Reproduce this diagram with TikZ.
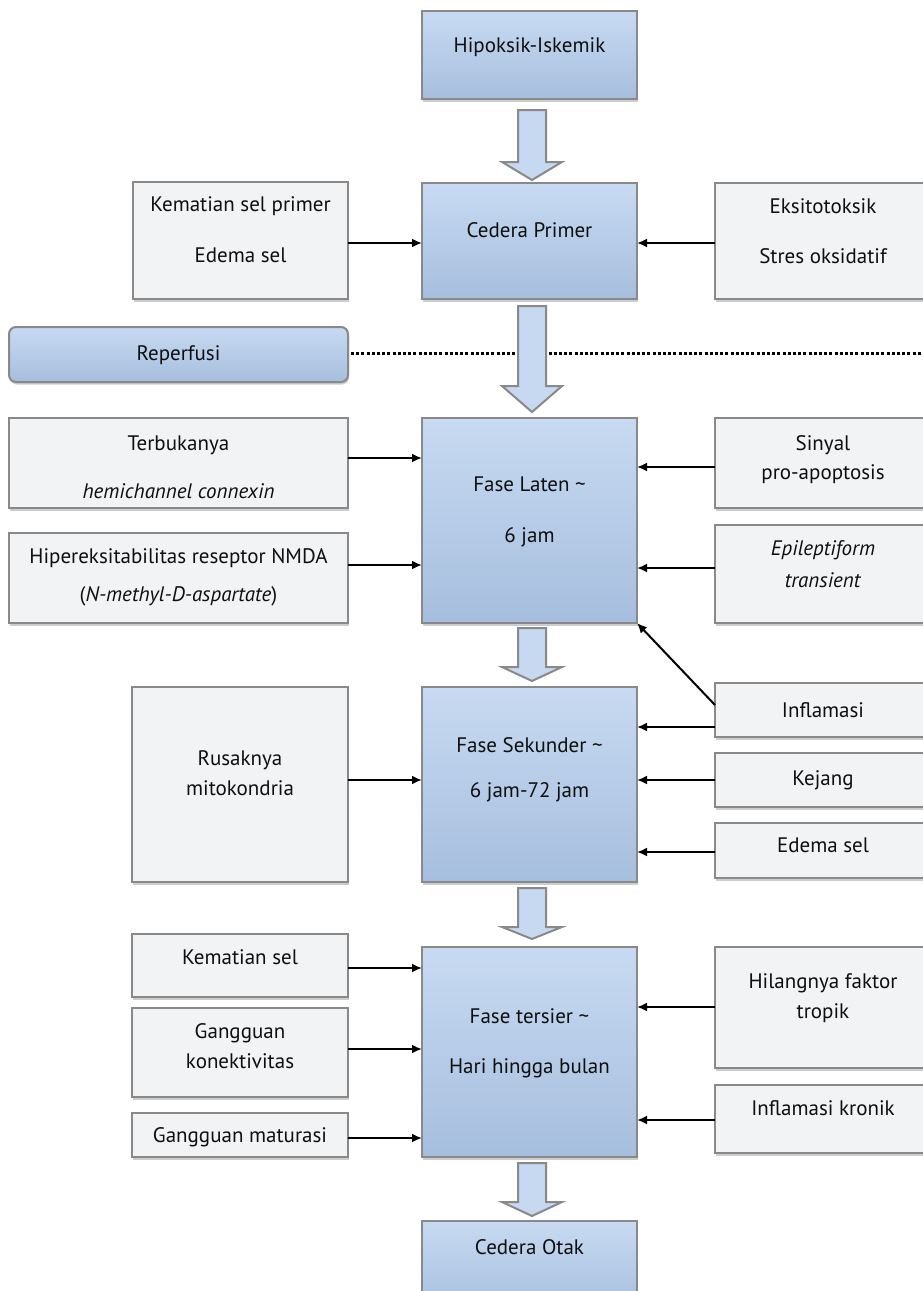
\documentclass[tikz,border=0pt]{standalone}
\usepackage{fontspec}
\setmainfont{PT Sans}
\usetikzlibrary{calc,shadows,arrows.meta}

\newcommand{\bigarrow}[5]{%
\path[bigarr] let \p1=(#1.south), \p2=(#2.north) in
  (\x1-11.5pt,\y1-#3pt) -- (\x1+16.5pt,\y1-#3pt) -- (\x1+16.5pt,\y2+#4pt+#5pt) --
  (\x1+32.5pt,\y2+#4pt+#5pt) -- (\x1+2.5pt,\y2+#4pt) -- (\x1-27.5pt,\y2+#4pt+#5pt) --
  (\x1-11.5pt,\y2+#4pt+#5pt) -- cycle;}

\begin{document}
\begin{tikzpicture}[x=1pt,y=-1pt,
  every node/.style={inner sep=0pt,outer sep=0pt},
  phase/.style={rectangle,anchor=north west,draw=edgeColor,line width=2pt,
    top color=blueTop,bottom color=blueBot,
    drop shadow={shadow xshift=1pt,shadow yshift=-2.5pt,fill=shadowColor,opacity=1}},
  cause/.style={rectangle,anchor=north west,draw=edgeColor,line width=2pt,fill=boxFill,
    drop shadow={shadow xshift=1pt,shadow yshift=-2.5pt,fill=shadowColor,opacity=1}},
  txt/.style={anchor=base,text=textColor,font=\fontsize{21}{25}\selectfont},
  arr/.style={draw=black,line width=2pt,-{Latex[length=10pt,width=9pt]}},
  dotline/.style={draw=black,line width=3pt,dash pattern=on 3pt off 2.2pt},
  bigarr/.style={draw=edgeColor,line width=2pt,fill=arrFill,line join=miter}]
\definecolor{blueTop}{RGB}{199,218,241}
\definecolor{blueBot}{RGB}{166,190,222}
\definecolor{boxFill}{RGB}{242,243,245}
\definecolor{edgeColor}{RGB}{137,137,137}
\definecolor{arrFill}{RGB}{198,217,241}
\definecolor{shadowColor}{RGB}{205,205,205}
\definecolor{textColor}{RGB}{15,15,15}
\path[use as bounding box,fill=white] (0,0) rectangle (923,1291);
\clip (0,0) rectangle (923,1291);

\node[phase,minimum width=215,minimum height=88] (hipo) at (422,11) {};
\node[cause,minimum width=215,minimum height=117] (kspr) at (133,182) {};
\node[phase,minimum width=215,minimum height=116] (cprim) at (422,183) {};
\node[cause,minimum width=220,minimum height=116] (eksit) at (715,183) {};
\node[phase,rounded corners=7pt,minimum width=339,minimum height=55] (reper) at (9,327) {};
\node[cause,minimum width=339,minimum height=90] (terbuka) at (9,418) {};
\node[cause,minimum width=339,minimum height=90] (hiper) at (9,533) {};
\node[phase,minimum width=215,minimum height=205] (laten) at (422,418) {};
\node[cause,minimum width=220,minimum height=90] (sinyal) at (715,418) {};
\node[cause,minimum width=220,minimum height=98] (epilep) at (715,525) {};
\node[cause,minimum width=220,minimum height=54] (inflam) at (715,683) {};
\node[cause,minimum width=220,minimum height=54] (kejang) at (715,753) {};
\node[cause,minimum width=220,minimum height=55] (edema) at (715,823) {};
\node[cause,minimum width=216,minimum height=195] (rusak) at (132,687) {};
\node[phase,minimum width=215,minimum height=195] (sekunder) at (422,687) {};
\node[cause,minimum width=216,minimum height=63] (kematian) at (132,934) {};
\node[cause,minimum width=216,minimum height=89] (gangguan) at (132,1008) {};
\node[cause,minimum width=216,minimum height=44] (maturasi) at (132,1113) {};
\node[phase,minimum width=215,minimum height=210] (tersier) at (422,947) {};
\node[cause,minimum width=220,minimum height=121] (hilang) at (715,947) {};
\node[cause,minimum width=220,minimum height=68] (kronik) at (715,1085) {};
\node[phase,minimum width=215,minimum height=90] (otak) at (422,1221) {};

\coordinate (dotend) at (923,353);
\draw[dotline] ([xshift=3pt,yshift=1.5pt]reper.east) -- (dotend);

\bigarrow{hipo}{cprim}{11}{3}{18}
\bigarrow{cprim}{laten}{7}{6}{26}
\bigarrow{laten}{sekunder}{5}{6}{14}
\bigarrow{sekunder}{tersier}{6}{8}{12}
\bigarrow{tersier}{otak}{6}{5}{14}

\node[txt] (hipoT) at (529.5,52) {Hipoksik-Iskemik};
\node[txt] (ksprA) at (240.5,211) {Kematian sel primer};
\node[txt] (ksprB) at (240.5,262) {Edema sel};
\node[txt] (cprimT) at (529.5,237) {Cedera Primer};
\node[txt] (eksitA) at (823,213) {Eksitotoksik};
\node[txt] (eksitB) at (823,263) {Stres oksidatif};
\node[txt] (reperT) at (178.5,360) {Reperfusi};
\node[txt] (terbukaA) at (178.5,450) {Terbukanya};
\node[txt] (terbukaB) at (178.5,498) {\textit{hemichannel connexin}};
\node[txt] (hiperA) at (178.5,563) {Hipereksitabilitas reseptor NMDA};
\node[txt] (hiperB) at (178.5,601) {(\textit{N-methyl-D-aspartate})};
\node[txt] (latenA) at (529.5,491) {Fase Laten \textasciitilde};
\node[txt] (latenB) at (529.5,542) {6 jam};
\node[txt] (sinyalA) at (823,450) {Sinyal};
\node[txt] (sinyalB) at (823,479) {pro-apoptosis};
\node[txt] (epilepA) at (823,555) {\textit{Epileptiform}};
\node[txt] (epilepB) at (823,587) {\textit{transient}};
\node[txt] (inflamT) at (823,717) {Inflamasi};
\node[txt] (kejangT) at (823,785) {Kejang};
\node[txt] (edemaT) at (823,852) {Edema sel};
\node[txt] (rusakA) at (240,765) {Rusaknya};
\node[txt] (rusakB) at (240,795) {mitokondria};
\node[txt] (sekunderA) at (529.5,752) {Fase Sekunder \textasciitilde};
\node[txt] (sekunderB) at (529.5,797) {6 jam-72 jam};
\node[txt] (kematianT) at (240,964) {Kematian sel};
\node[txt] (gangguanA) at (240,1038) {Gangguan};
\node[txt] (gangguanB) at (240,1068) {konektivitas};
\node[txt] (maturasiT) at (240,1142) {Gangguan maturasi};
\node[txt] (tersierA) at (529.5,1023) {Fase tersier \textasciitilde};
\node[txt] (tersierB) at (529.5,1073) {Hari hingga bulan};
\node[txt] (hilangA) at (823,988) {Hilangnya faktor};
\node[txt] (hilangB) at (823,1018) {tropik};
\node[txt] (kronikT) at (823,1115) {Inflamasi kronik};
\node[txt] (otakT) at (529.5,1254) {Cedera Otak};

\draw[arr] ([yshift=-2.5pt]kspr.east) -- ([yshift=-2.5pt]kspr.east -| cprim.west);
\draw[arr] ([yshift=-2pt]eksit.west) -- ([yshift=-2pt]eksit.west -| cprim.east);
\draw[arr] ([yshift=5pt]terbuka.east) -- ([yshift=5pt]terbuka.east -| laten.west);
\draw[arr] ([yshift=13pt]hiper.east) -- ([yshift=13pt]hiper.east -| laten.west);
\draw[arr] ([yshift=-4pt]sinyal.west) -- ([yshift=-4pt]sinyal.west -| laten.east);
\draw[arr] ([yshift=6pt]epilep.west) -- ([yshift=6pt]epilep.west -| laten.east);
\draw[arr] ([yshift=5pt]inflam.west) -- (laten.south east);
\draw[arr] ([yshift=-17pt]inflam.west) -- ([yshift=-17pt]inflam.west -| sekunder.east);
\draw[arr] (kejang.west) -- (kejang.west -| sekunder.east);
\draw[arr] ([yshift=-1.5pt]edema.west) -- ([yshift=-1.5pt]edema.west -| sekunder.east);
\draw[arr] ([yshift=4.5pt]rusak.east) -- ([yshift=4.5pt]rusak.east -| sekunder.west);
\draw[arr] ([yshift=-2.5pt]kematian.east) -- ([yshift=-2.5pt]kematian.east -| tersier.west);
\draw[arr] ([yshift=3.5pt]gangguan.east) -- ([yshift=3.5pt]gangguan.east -| tersier.west);
\draw[arr] ([yshift=-3pt]maturasi.east) -- ([yshift=-3pt]maturasi.east -| tersier.west);
\draw[arr] ([yshift=0.5pt]hilang.west) -- ([yshift=0.5pt]hilang.west -| tersier.east);
\draw[arr] ([yshift=-1pt]kronik.west) -- ([yshift=-1pt]kronik.west -| tersier.east);
\end{tikzpicture}
\end{document}
